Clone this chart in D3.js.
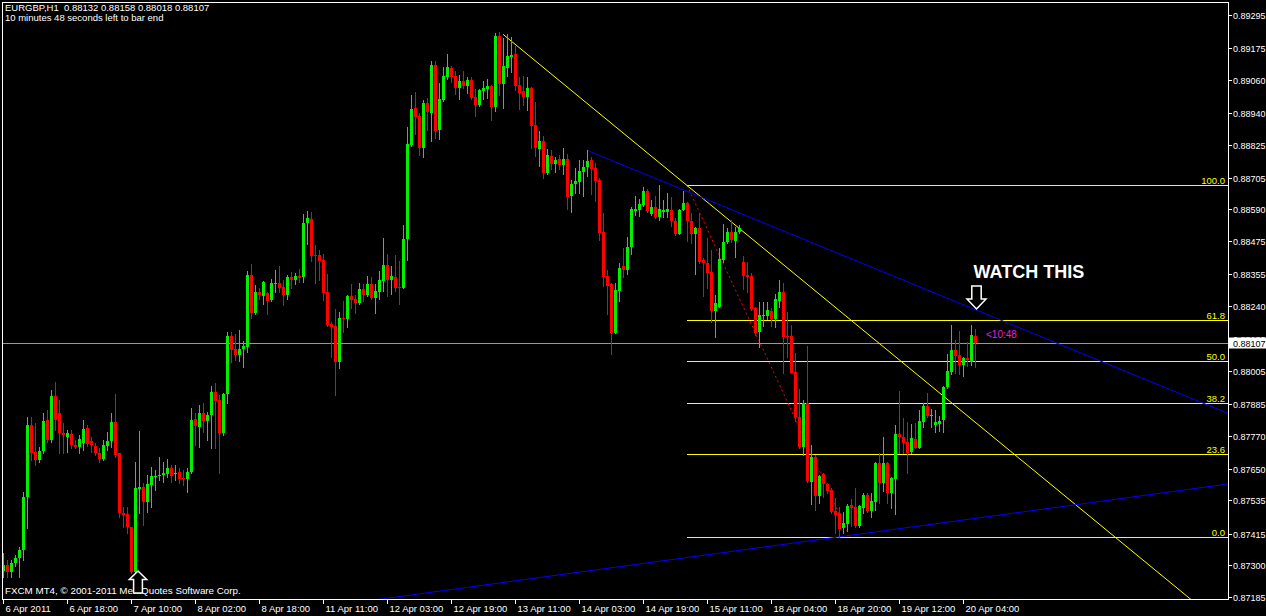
<!DOCTYPE html>
<html>
<head>
<meta charset="utf-8">
<script src="https://cdn.jsdelivr.net/npm/d3@7/dist/d3.min.js"></script>
<style>
  html, body { margin: 0; padding: 0; background: #000; }
  svg { display: block; }
  text { font-family: "Liberation Sans", Arial, sans-serif; white-space: pre; }
</style>
</head>
<body>
<svg id="chart" width="1266" height="616"></svg>
<script>
// ---- EURGBP H1 bars (bar index 0 = 6 Apr 2011 02:00) ----
const symbol = "EURGBP,H1";
const opens = [0.87279,0.87301,0.87276,0.87308,0.87326,0.87355,0.87548,0.87809,0.87711,0.87682,0.87714,0.87827,0.87754,0.87914,0.87852,0.87780,0.87765,0.87776,0.87736,0.87729,0.87743,0.87798,0.87751,0.87732,0.87707,0.87685,0.87732,0.87751,0.87819,0.87707,0.87490,0.87486,0.87439,0.87276,0.87577,0.87584,0.87529,0.87591,0.87620,0.87624,0.87627,0.87631,0.87653,0.87631,0.87638,0.87616,0.87613,0.87638,0.87830,0.87801,0.87852,0.87823,0.87845,0.87928,0.87899,0.87780,0.87921,0.88131,0.88084,0.88062,0.88084,0.88091,0.88352,0.88215,0.88291,0.88276,0.88287,0.88262,0.88320,0.88323,0.88309,0.88280,0.88345,0.88334,0.88349,0.88345,0.88541,0.88555,0.88425,0.88425,0.88407,0.88291,0.88175,0.88168,0.88037,0.88197,0.88193,0.88276,0.88265,0.88251,0.88302,0.88280,0.88320,0.88269,0.88291,0.88331,0.88389,0.88334,0.88345,0.88309,0.88305,0.88483,0.88824,0.88958,0.88929,0.88813,0.88976,0.88940,0.89114,0.88878,0.88987,0.89070,0.89103,0.89074,0.89030,0.89056,0.89038,0.89059,0.88998,0.88969,0.89019,0.89027,0.89038,0.88961,0.89219,0.89045,0.89103,0.89143,0.89154,0.89041,0.89019,0.88998,0.89030,0.88896,0.88809,0.88838,0.88722,0.88784,0.88755,0.88773,0.88751,0.88773,0.88639,0.88682,0.88690,0.88726,0.88744,0.88769,0.88740,0.88697,0.88508,0.88349,0.88320,0.88142,0.88294,0.88385,0.88371,0.88454,0.88584,0.88588,0.88606,0.88657,0.88574,0.88599,0.88563,0.88581,0.88581,0.88588,0.88548,0.88501,0.88588,0.88613,0.88548,0.88501,0.88523,0.88407,0.88396,0.88363,0.88222,0.88236,0.88407,0.88472,0.88508,0.88476,0.88508,0.88400,0.88352,0.88349,0.88233,0.88146,0.88204,0.88204,0.88222,0.88193,0.88258,0.88291,0.88131,0.88131,0.88001,0.87838,0.87729,0.87888,0.87602,0.87693,0.87551,0.87631,0.87595,0.87573,0.87497,0.87490,0.87435,0.87450,0.87518,0.87511,0.87442,0.87508,0.87555,0.87497,0.87529,0.87671,0.87598,0.87671,0.87562,0.87613,0.87776,0.87765,0.87747,0.87711,0.87758,0.87725,0.87819,0.87877,0.87841,0.87809,0.87812,0.87827,0.87946,0.88001,0.88081,0.88062,0.88026,0.88052,0.88037,0.88132];
const highs = [0.87345,0.87319,0.87319,0.87337,0.87366,0.87566,0.87838,0.87838,0.87816,0.87729,0.87852,0.87863,0.87935,0.87965,0.87899,0.87816,0.87790,0.87790,0.87754,0.87772,0.87827,0.87809,0.87765,0.87743,0.87725,0.87754,0.87783,0.87852,0.87921,0.87707,0.87511,0.87511,0.87439,0.87674,0.87787,0.87598,0.87627,0.87656,0.87645,0.87693,0.87674,0.87685,0.87664,0.87664,0.87653,0.87645,0.87653,0.87870,0.87852,0.87881,0.87888,0.87856,0.87950,0.87961,0.87917,0.87925,0.88146,0.88146,0.88139,0.88153,0.88113,0.88367,0.88392,0.88316,0.88305,0.88331,0.88291,0.88338,0.88371,0.88385,0.88334,0.88352,0.88363,0.88360,0.88374,0.88574,0.88584,0.88581,0.88461,0.88443,0.88429,0.88356,0.88182,0.88229,0.88218,0.88258,0.88280,0.88320,0.88280,0.88323,0.88320,0.88349,0.88345,0.88320,0.88367,0.88487,0.88429,0.88385,0.88425,0.88403,0.88534,0.88889,0.89005,0.89016,0.88940,0.88987,0.88994,0.89128,0.89128,0.89048,0.89107,0.89154,0.89110,0.89092,0.89077,0.89092,0.89070,0.89070,0.89027,0.89027,0.89056,0.89063,0.89041,0.89230,0.89233,0.89212,0.89226,0.89215,0.89183,0.89070,0.89074,0.89070,0.89034,0.88980,0.88874,0.88856,0.88809,0.88806,0.88780,0.88787,0.88813,0.88791,0.88697,0.88740,0.88769,0.88769,0.88806,0.88780,0.88758,0.88704,0.88577,0.88371,0.88323,0.88323,0.88396,0.88450,0.88490,0.88599,0.88639,0.88628,0.88671,0.88664,0.88624,0.88639,0.88679,0.88624,0.88650,0.88635,0.88559,0.88592,0.88657,0.88617,0.88577,0.88526,0.88577,0.88414,0.88487,0.88443,0.88280,0.88450,0.88537,0.88523,0.88552,0.88526,0.88534,0.88421,0.88400,0.88360,0.88236,0.88255,0.88255,0.88255,0.88233,0.88284,0.88334,0.88323,0.88218,0.88171,0.88070,0.87939,0.87899,0.88095,0.87736,0.87700,0.87627,0.87635,0.87598,0.87580,0.87544,0.87511,0.87493,0.87522,0.87540,0.87580,0.87518,0.87562,0.87562,0.87562,0.87674,0.87707,0.87765,0.87674,0.87620,0.87809,0.87932,0.87834,0.87819,0.87812,0.87816,0.87863,0.87888,0.87925,0.87867,0.87863,0.87841,0.87950,0.88066,0.88171,0.88117,0.88149,0.88055,0.88110,0.88171,0.88158];
const lows = [0.87258,0.87258,0.87258,0.87297,0.87258,0.87319,0.87435,0.87682,0.87664,0.87674,0.87707,0.87747,0.87747,0.87790,0.87707,0.87707,0.87711,0.87725,0.87725,0.87707,0.87718,0.87732,0.87711,0.87700,0.87674,0.87682,0.87718,0.87729,0.87693,0.87475,0.87439,0.87417,0.87272,0.87272,0.87490,0.87446,0.87493,0.87511,0.87573,0.87609,0.87602,0.87620,0.87602,0.87609,0.87598,0.87591,0.87566,0.87635,0.87736,0.87729,0.87783,0.87754,0.87725,0.87725,0.87635,0.87772,0.87888,0.88037,0.88044,0.88041,0.88019,0.88073,0.88197,0.88211,0.88265,0.88247,0.88211,0.88258,0.88291,0.88291,0.88244,0.88265,0.88305,0.88320,0.88327,0.88327,0.88465,0.88403,0.88323,0.88334,0.88262,0.88168,0.88055,0.87917,0.88015,0.88146,0.88164,0.88233,0.88215,0.88247,0.88258,0.88276,0.88265,0.88215,0.88265,0.88294,0.88276,0.88284,0.88294,0.88247,0.88305,0.88407,0.88820,0.88864,0.88787,0.88780,0.88878,0.88838,0.88849,0.88845,0.88983,0.89063,0.89052,0.89009,0.88990,0.89030,0.89012,0.88990,0.88929,0.88965,0.88990,0.88994,0.88914,0.88947,0.89005,0.88958,0.89074,0.89088,0.89023,0.88954,0.88969,0.88951,0.88813,0.88784,0.88748,0.88704,0.88719,0.88737,0.88726,0.88737,0.88719,0.88592,0.88581,0.88650,0.88650,0.88639,0.88711,0.88646,0.88621,0.88479,0.88313,0.88211,0.88066,0.88142,0.88258,0.88345,0.88356,0.88429,0.88570,0.88566,0.88603,0.88581,0.88570,0.88559,0.88552,0.88563,0.88563,0.88530,0.88497,0.88501,0.88588,0.88476,0.88468,0.88356,0.88396,0.88276,0.88305,0.88182,0.88128,0.88236,0.88400,0.88468,0.88472,0.88418,0.88505,0.88302,0.88291,0.88226,0.88135,0.88091,0.88168,0.88193,0.88168,0.88164,0.88236,0.87997,0.88055,0.87997,0.87823,0.87725,0.87700,0.87602,0.87522,0.87500,0.87526,0.87548,0.87562,0.87490,0.87417,0.87403,0.87417,0.87424,0.87442,0.87439,0.87439,0.87490,0.87493,0.87475,0.87500,0.87526,0.87569,0.87526,0.87508,0.87486,0.87707,0.87707,0.87635,0.87707,0.87725,0.87725,0.87801,0.87838,0.87801,0.87783,0.87787,0.87783,0.87943,0.87994,0.87997,0.87994,0.87986,0.88023,0.88026,0.88018];
const closes = [0.87301,0.87276,0.87308,0.87326,0.87355,0.87548,0.87809,0.87707,0.87682,0.87714,0.87823,0.87754,0.87914,0.87827,0.87780,0.87772,0.87780,0.87736,0.87729,0.87758,0.87794,0.87740,0.87736,0.87707,0.87685,0.87736,0.87751,0.87819,0.87700,0.87490,0.87482,0.87439,0.87276,0.87580,0.87584,0.87529,0.87595,0.87624,0.87624,0.87627,0.87635,0.87653,0.87624,0.87635,0.87613,0.87613,0.87638,0.87827,0.87805,0.87852,0.87823,0.87845,0.87928,0.87896,0.87780,0.87921,0.88131,0.88081,0.88062,0.88084,0.88095,0.88352,0.88215,0.88291,0.88280,0.88327,0.88258,0.88323,0.88323,0.88305,0.88280,0.88345,0.88334,0.88349,0.88342,0.88541,0.88559,0.88421,0.88421,0.88403,0.88287,0.88171,0.88164,0.88037,0.88197,0.88193,0.88276,0.88262,0.88251,0.88302,0.88280,0.88320,0.88269,0.88294,0.88334,0.88389,0.88334,0.88349,0.88305,0.88305,0.88483,0.88827,0.88954,0.88925,0.88813,0.88976,0.88943,0.89114,0.88874,0.88990,0.89074,0.89107,0.89070,0.89030,0.89056,0.89038,0.89059,0.88994,0.88969,0.89023,0.89030,0.89038,0.88961,0.89219,0.89045,0.89110,0.89146,0.89150,0.89038,0.89012,0.88998,0.89030,0.88893,0.88813,0.88838,0.88722,0.88787,0.88755,0.88769,0.88751,0.88773,0.88635,0.88682,0.88693,0.88729,0.88744,0.88766,0.88737,0.88693,0.88505,0.88345,0.88313,0.88142,0.88298,0.88378,0.88371,0.88454,0.88592,0.88592,0.88610,0.88657,0.88584,0.88599,0.88563,0.88592,0.88588,0.88592,0.88548,0.88501,0.88588,0.88613,0.88548,0.88501,0.88523,0.88400,0.88396,0.88360,0.88222,0.88251,0.88410,0.88472,0.88508,0.88479,0.88508,0.88523,0.88349,0.88345,0.88229,0.88142,0.88207,0.88207,0.88226,0.88193,0.88265,0.88291,0.88128,0.88128,0.87997,0.87838,0.87729,0.87888,0.87606,0.87693,0.87551,0.87624,0.87595,0.87569,0.87493,0.87482,0.87432,0.87453,0.87515,0.87508,0.87442,0.87515,0.87555,0.87497,0.87533,0.87671,0.87598,0.87671,0.87562,0.87616,0.87776,0.87765,0.87743,0.87707,0.87761,0.87725,0.87823,0.87877,0.87841,0.87845,0.87819,0.87823,0.87946,0.88004,0.88081,0.88059,0.88026,0.88052,0.88044,0.88135,0.88107];

// time axis: label text and the bar it sits on
const timeLabels = ["6 Apr 2011","6 Apr 18:00","7 Apr 10:00","8 Apr 02:00","8 Apr 18:00","11 Apr 11:00","12 Apr 03:00","12 Apr 19:00","13 Apr 11:00","14 Apr 03:00","14 Apr 19:00","15 Apr 11:00","18 Apr 04:00","18 Apr 20:00","19 Apr 12:00","20 Apr 04:00"];
const timeLabelBars = [0,16,32,48,64,80,96,112,128,144,160,176,192,208,224,240];
// price axis labels
const priceTicks = ["0.89295","0.89175","0.89060","0.88940","0.88825","0.88705","0.88590","0.88475","0.88355","0.88240","0.88120","0.88005","0.87885","0.87770","0.87650","0.87535","0.87415","0.87300","0.87185"];

// drawing objects: [bar, price] anchor pairs
const yellowTrend = [[125, 0.89225], [171, 0.88677]];
const blueUpper   = [[146.2, 0.88803], [243, 0.88227]];
const blueLower   = [[209.5, 0.87404], [243, 0.87470]];
const fibFrom = [171, 0.88677];
const fibTo   = [211.75, 0.87403];
const fibLevels = [0, 23.6, 38.2, 50, 61.8, 100];
const fibLabels = ["0.0", "23.6", "38.2", "50.0", "61.8", "100.0"];

const timerText = "10 minutes 48 seconds left to bar end";
const countdown = "<10:48";
const copyright = "FXCM MT4, \u00A9 2001-2011 MetaQuotes Software Corp.";
const note = "WATCH THIS";

// ---- layout ----
const W = 1266, H = 616;
const plot = { left: 2, top: 2, right: 1228, bottom: 599 };
const BULL = "#00f000", BEAR = "#ff0000";

const svg = d3.select("#chart");
svg.append("rect").attr("width", W).attr("height", H).attr("fill", "#000");

const x = d3.scaleLinear().domain([0, 243]).range([3, 975]);
const y = d3.scaleLinear().domain([0.87185, 0.89295]).range([597, 15]);

const lastIdx = closes.length - 1;
const lastPrice = closes[lastIdx];

svg.append("defs").append("clipPath").attr("id", "plotClip")
  .append("rect")
  .attr("x", plot.left).attr("y", plot.top)
  .attr("width", plot.right - plot.left).attr("height", plot.bottom - plot.top);

const g = svg.append("g").attr("clip-path", "url(#plotClip)");

// line through two anchors, evaluated at a bar position
const lineAt = (pts, bar) => {
  const [[b1, p1], [b2, p2]] = pts;
  return p1 + (p2 - p1) * (bar - b1) / (b2 - b1);
};
const rightBar = x.invert(plot.right);
const seg = d3.line().x(d => x(d[0])).y(d => y(d[1]));

// current price line
const yLast = Math.round(y(lastPrice)) + 0.5;
g.append("line")
  .attr("x1", plot.left).attr("x2", plot.right)
  .attr("y1", yLast).attr("y2", yLast)
  .attr("stroke", "#8a9bab").attr("stroke-width", 1);

// fibonacci retracement
const fibRange = fibFrom[1] - fibTo[1];
const fibG = g.append("g");
fibLevels.forEach((lv, k) => {
  const price = fibTo[1] + fibRange * lv / 100;
  const yy = Math.round(y(price)) + 0.5;
  fibG.append("line")
    .attr("x1", x(fibFrom[0])).attr("x2", plot.right)
    .attr("y1", yy).attr("y2", yy)
    .attr("stroke", "#ffff00").attr("stroke-width", 1);
  fibG.append("text")
    .attr("x", plot.right - 3).attr("y", yy - 2)
    .attr("text-anchor", "end")
    .attr("font-size", "9.5px").attr("fill", "#ffff00")
    .text(fibLabels[k]);
});
g.append("path")
  .attr("d", seg([fibFrom, fibTo]))
  .attr("fill", "none").attr("stroke", "#ff0000").attr("stroke-width", 1)
  .attr("stroke-dasharray", "2,3");

// trend lines (rays to the right edge)
const ray = (pts, fromBar) => [[fromBar, lineAt(pts, fromBar)], [rightBar, lineAt(pts, rightBar)]];
g.append("path").attr("d", seg(ray(yellowTrend, yellowTrend[0][0])))
  .attr("fill", "none").attr("stroke", "#ffff00").attr("stroke-width", 1);
g.append("path").attr("d", seg(ray(blueUpper, blueUpper[0][0])))
  .attr("fill", "none").attr("stroke", "#0000ff").attr("stroke-width", 1);
g.append("path").attr("d", seg(ray(blueLower, 60)))
  .attr("fill", "none").attr("stroke", "#0000ff").attr("stroke-width", 1);

// candles
const bars = opens.map((o, i) => ({ i, o, h: highs[i], l: lows[i], c: closes[i] }));
const candle = g.append("g").attr("shape-rendering", "crispEdges")
  .selectAll("g").data(bars).join("g");
candle.append("line")
  .attr("x1", d => x(d.i) + 0.5).attr("x2", d => x(d.i) + 0.5)
  .attr("y1", d => Math.round(y(d.h))).attr("y2", d => Math.round(y(d.l)) + 1)
  .attr("stroke", d => d.c >= d.o ? BULL : BEAR);
candle.append("rect")
  .attr("x", d => x(d.i) - 1).attr("width", 3)
  .attr("y", d => Math.round(y(Math.max(d.o, d.c))))
  .attr("height", d => Math.max(1, Math.round(y(Math.min(d.o, d.c))) - Math.round(y(Math.max(d.o, d.c)))))
  .attr("fill", d => d.c >= d.o ? BULL : BEAR);

// countdown label next to the live bar
g.append("text")
  .attr("x", x(lastIdx) + 11).attr("y", y(lastPrice) - 4.5)
  .attr("font-size", "10px").attr("fill", "#e020e0")
  .text(countdown);

// annotation: arrow pointing down on the upper blue line
const dnX = x(lastIdx + 0.25) + 0.5, dnY = y(lineAt(blueUpper, lastIdx + 0.25)) - 1;
svg.append("path")
  .attr("d", `M${dnX},${dnY} l9.5,-10 h-4.8 v-13 h-9.4 v13 h-4.8 Z`)
  .attr("fill", "#000").attr("stroke", "#fff").attr("stroke-width", 1.5)
  .attr("stroke-linejoin", "miter");
svg.append("text")
  .attr("x", dnX - 3).attr("y", dnY - 31)
  .attr("font-size", "18px").attr("font-weight", "bold").attr("fill", "#fff")
  .text(note);

// copyright line and up arrow at the swing low
svg.append("text")
  .attr("x", 5).attr("y", 594)
  .attr("font-size", "9.8px").attr("fill", "#fff")
  .text(copyright);
const upX = x(33) + 3, upY = y(lows[33]) - 2;
svg.append("path")
  .attr("d", `M${upX},${upY} l8.7,8.5 h-4.3 v13.5 h-8.8 v-13.5 h-4.3 Z`)
  .attr("fill", "#000").attr("stroke", "#fff").attr("stroke-width", 1.5);

// header
svg.append("text").attr("x", 5).attr("y", 11)
  .attr("font-size", "9.5px").attr("fill", "#fff")
  .text(`${symbol}  ${opens[lastIdx].toFixed(5)} ${highs[lastIdx].toFixed(5)} ${lows[lastIdx].toFixed(5)} ${closes[lastIdx].toFixed(5)}`);
svg.append("text").attr("x", 5).attr("y", 21)
  .attr("font-size", "9.5px").attr("fill", "#fff")
  .text(timerText);

// frame
const frame = svg.append("g").attr("shape-rendering", "crispEdges").attr("stroke", "#fff").attr("fill", "none");
frame.append("rect")
  .attr("x", plot.left + 0.5).attr("y", plot.top + 0.5)
  .attr("width", plot.right - plot.left).attr("height", plot.bottom - plot.top);

// price axis
const pAxis = svg.append("g");
priceTicks.forEach(t => {
  const yy = Math.round(y(+t)) + 0.5;
  pAxis.append("line").attr("x1", plot.right + 1).attr("x2", plot.right + 4)
    .attr("y1", yy).attr("y2", yy).attr("stroke", "#fff").attr("shape-rendering", "crispEdges");
  pAxis.append("text").attr("x", plot.right + 5).attr("y", yy + 3.5)
    .attr("font-size", "9px").attr("fill", "#fff").text(t);
});
// live price tag
pAxis.append("rect").attr("x", plot.right + 1).attr("y", yLast - 6)
  .attr("width", W - plot.right - 1).attr("height", 11).attr("fill", "#fff");
pAxis.append("text").attr("x", plot.right + 5).attr("y", yLast + 3.5)
  .attr("font-size", "9px").attr("fill", "#000").text(lastPrice.toFixed(5));

// time axis
const tAxis = svg.append("g");
timeLabelBars.forEach((b, k) => {
  const xx = x(b) + 0.5;
  tAxis.append("line").attr("x1", xx).attr("x2", xx)
    .attr("y1", plot.bottom + 1).attr("y2", plot.bottom + 5)
    .attr("stroke", "#fff").attr("shape-rendering", "crispEdges");
  tAxis.append("text").attr("x", xx + 2).attr("y", 612)
    .attr("font-size", "9.5px").attr("fill", "#fff").text(timeLabels[k]);
});
</script>
</body>
</html>
